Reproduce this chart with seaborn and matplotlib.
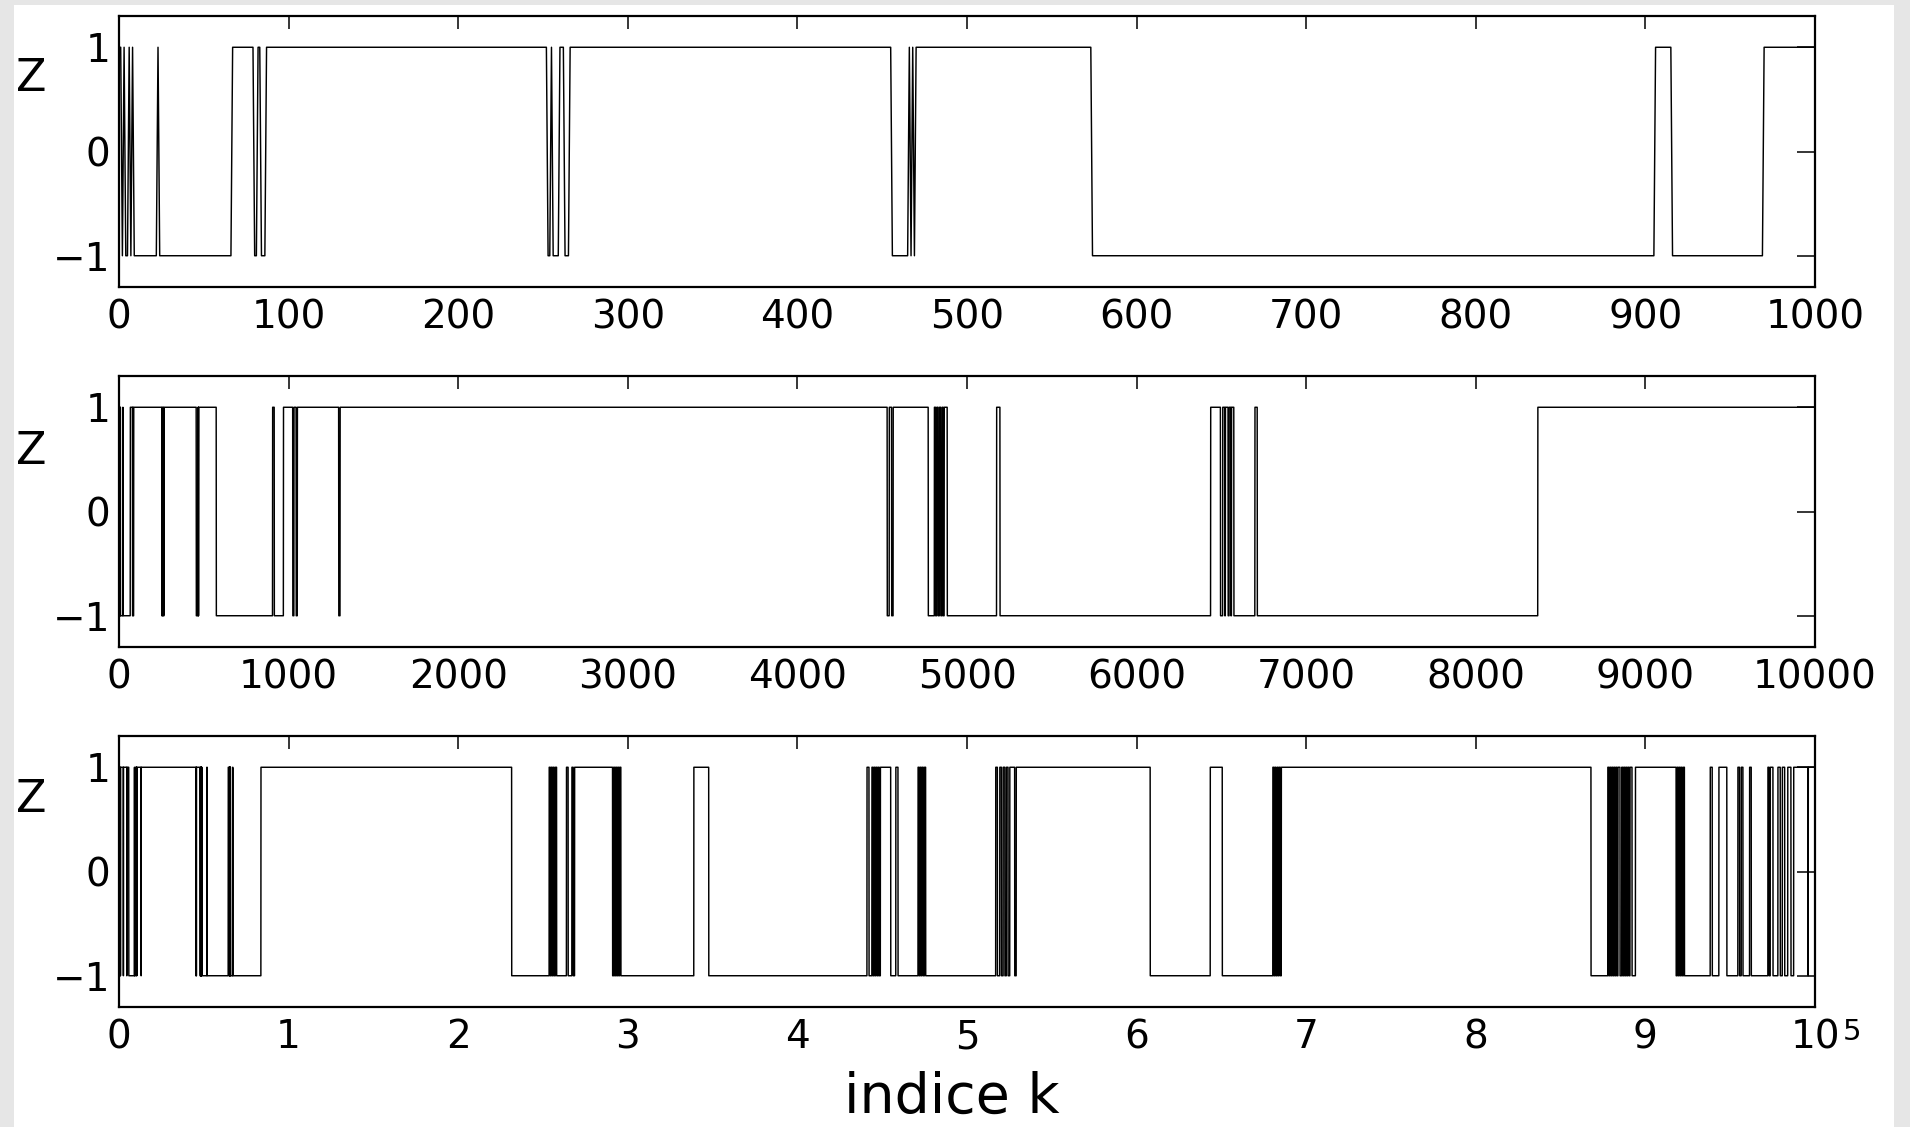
import numpy as np
import pandas as pd
import matplotlib
matplotlib.use("Agg")
import matplotlib.pyplot as plt
from matplotlib.patches import Rectangle
import seaborn as sns

# ---- data: sample indices k at which z changes sign (z(0) = +1) ----
z_initial = 1
switches_0_1000 = [2, 3, 4, 6, 7, 8, 9, 23, 24, 67, 80, 82, 84, 87,
                   253, 255, 256, 260, 263, 266,
                   456, 466, 467, 468, 469, 470, 574, 906, 916, 970]
switches_1000_10000 = [1025, 1032, 1045, 1052, 1296, 1304,
                       4530, 4542, 4556, 4565, 4772,
                       4808, 4815, 4822, 4830, 4838, 4846, 4854, 4860, 4866, 4884,
                       5175, 5195,
                       6437, 6495, 6508, 6520, 6524, 6540, 6546, 6556, 6560, 6574,
                       6698, 6712, 8366]
switches_10000_100000 = [23150,
                         25360, 25420, 25480, 25540, 25600, 25660, 25730, 25800,
                         26380, 26480, 26700, 26780, 26860,
                         29100, 29160, 29220, 29280, 29340, 29400, 29460, 29520, 29590,
                         33890, 34770,
                         44100, 44220, 44390, 44450, 44510, 44570, 44630, 44700, 44760, 44820, 44890,
                         45500, 45800, 45930,
                         47110, 47170, 47230, 47290, 47350, 47420, 47490, 47560,
                         51690, 51790, 51930, 52030, 52130, 52230, 52320, 52420, 52520, 52810, 52900,
                         60800, 64340, 65050,
                         68030, 68090, 68150, 68210, 68280, 68340, 68400, 68470, 68530,
                         86790,
                         87780, 87840, 87900, 87960, 88020, 88080, 88140, 88200, 88260, 88320, 88380,
                         88500,
                         88600, 88660, 88720, 88780, 88840, 88900, 88960, 89030, 89090,
                         89210, 89410,
                         91810, 91870, 91930, 91990, 92050, 92110, 92170, 92240, 92300,
                         93820, 93940, 94330, 94800,
                         95450, 95550, 95650, 95750, 96140, 96240,
                         97220, 97290, 97360, 97520,
                         97810, 97950, 98070, 98210, 98390, 98580, 98740,
                         99590, 99600]

panel_lengths = [1000, 10000, 100000]
xtick_values = [list(range(0, 1001, 100)),
                list(range(0, 10001, 1000)),
                list(range(0, 100001, 10000))]
xtick_labels = [[str(v) for v in xtick_values[0]],
                [str(v) for v in xtick_values[1]],
                [str(v // 10000) for v in xtick_values[2]]]
ytick_values = [-1, 0, 1]
ytick_labels = ['\u22121', '0', '1']
ylabel_text = "Z"
xlabel_text = "indice k"
exponent_text = "5"

# ---- build signal ----
all_switches = np.array(sorted(switches_0_1000 + switches_1000_10000 + switches_10000_100000))

sns.set_style("white")
plt.rcParams['font.family'] = ['DejaVu Sans']
plt.rcParams['axes.unicode_minus'] = True

W, H = 1910, 1127
fig = plt.figure(figsize=(W / 100, H / 100), dpi=100)
fig.patch.set_facecolor('#e6e6e6')
fig.patches.append(Rectangle((14 / W, 0), (1894 - 14) / W, (H - 5) / H,
                             transform=fig.transFigure, facecolor='white',
                             edgecolor='none', zorder=-10))

tops = [16, 376, 736]
ax_h = 271
left, right = 119, 1815
zlabel_y = [0.77, 0.723, 0.767]
tick_fs = 28

for i, n in enumerate(panel_lengths):
    y0 = 1 - (tops[i] + ax_h) / H
    ax = fig.add_axes([left / W, y0, (right - left) / W, ax_h / H])
    k = np.arange(n + 1)
    z = z_initial * (-1.0) ** np.searchsorted(all_switches, k, side='right')
    df = pd.DataFrame({'k': k, 'z': z})
    sns.lineplot(data=df, x='k', y='z', ax=ax, color='black', linewidth=1.05,
                 estimator=None, sort=False, legend=False)
    ax.set_xlim(0, n)
    ax.set_ylim(-1.3, 1.3)
    ax.set_xticks(xtick_values[i])
    ax.set_xticklabels(xtick_labels[i])
    ax.set_yticks(ytick_values)
    ax.set_yticklabels(ytick_labels)
    ax.set_xlabel('')
    ax.set_ylabel('')
    for s in ax.spines.values():
        s.set_visible(True)
        s.set_color('black')
        s.set_linewidth(1.6)
    ax.tick_params(axis='both', direction='in', top=True, right=True,
                   width=1.1, color='black', labelsize=tick_fs, labelcolor='black')
    ax.tick_params(axis='x', length=9, pad=8)
    ax.tick_params(axis='y', length=13, pad=6)
    ax.text(-0.052, zlabel_y[i], ylabel_text, transform=ax.transAxes,
            fontsize=32, ha='center', va='center', color='black')
    if i == 2:
        ax.annotate(exponent_text, xy=(1, 0), xycoords='axes fraction',
                    xytext=(20, -8), textcoords='offset points',
                    fontsize=21, ha='left', va='top', color='black')

fig.text(952 / W, 2 / H, xlabel_text, ha='center', va='bottom',
         fontsize=40, color='black')

fig.savefig('out.png', dpi=100, facecolor=fig.get_facecolor())
